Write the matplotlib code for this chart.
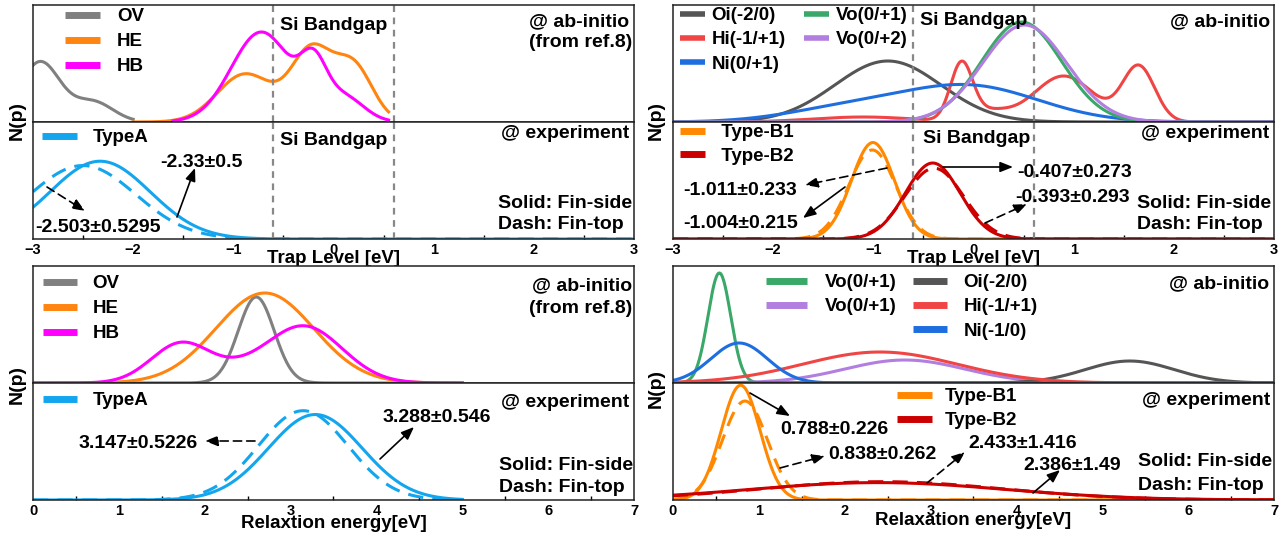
import numpy as np
import matplotlib
matplotlib.use("Agg")
import matplotlib.pyplot as plt
from matplotlib.lines import Line2D

plt.rcParams['font.family'] = ['Liberation Sans', 'DejaVu Sans']
plt.rcParams['font.weight'] = 'bold'
plt.rcParams['axes.labelweight'] = 'bold'

# ------------------------------------------------------------------ data
# Si band-gap edges (trap level, eV)
si_gap = [-0.6, 0.6]

# --- Trap level, ab-initio (ref.8), left panel: Gaussian components
ov_trap_mu, ov_trap_sd, ov_trap_amp, ov_trap_rng = [-2.93, -2.40], [0.20, 0.20], [0.60, 0.20], [-3.0, -2.0]
he_trap_mu, he_trap_sd, he_trap_amp, he_trap_rng = [-0.88, -0.22, 0.20], [0.28, 0.20, 0.19], [0.48, 0.70, 0.55], [-2.0, 0.55]
hb_trap_mu, hb_trap_sd, hb_trap_amp, hb_trap_rng = [-0.72, -0.20, 0.10], [0.30, 0.13, 0.20], [0.90, 0.45, 0.25], [-1.6, 0.55]

# --- Trap level, experiment, Type A (mean, sigma)
typeA_trap_side = [-2.33, 0.5]
typeA_trap_top = [-2.503, 0.5295]

# --- Trap level, ab-initio, right panel
oi_trap_mu, oi_trap_sd, oi_trap_amp = [-0.855], [0.53], [0.61]
hi_trap_mu, hi_trap_sd, hi_trap_amp = [-1.1, -0.12, 0.15, 0.90, 1.65], [0.50, 0.11, 0.20, 0.30, 0.16], [0.05, 0.56, 0.10, 0.46, 0.55]
ni_trap_mu, ni_trap_sd, ni_trap_amp = [-0.05, -1.30], [0.70, 0.60], [0.36, 0.12]
vo1_trap_mu, vo1_trap_sd, vo1_trap_amp = [0.48], [0.40], [1.00]
vo2_trap_mu, vo2_trap_sd, vo2_trap_amp = [0.51], [0.42], [0.97]

# --- Trap level, experiment, Type B1 / B2
typeB1_trap_side = [-1.004, 0.215]
typeB1_trap_top = [-1.011, 0.233]
typeB2_trap_side = [-0.407, 0.273]
typeB2_trap_top = [-0.393, 0.293]

# --- Relaxation energy, ab-initio (ref.8), left panel
ov_rel_mu, ov_rel_sd, ov_rel_amp = [2.60], [0.21], [0.86]
he_rel_mu, he_rel_sd, he_rel_amp = [2.70], [0.57], [0.90]
hb_rel_mu, hb_rel_sd, hb_rel_amp = [1.73, 2.40, 3.15], [0.35, 0.30, 0.45], [0.40, 0.06, 0.57]
rel_left_rng = [0.0, 5.0]

# --- Relaxation energy, experiment, Type A
typeA_rel_side = [3.288, 0.546]
typeA_rel_top = [3.147, 0.5226]

# --- Relaxation energy, ab-initio, right panel
vo1_rel_mu, vo1_rel_sd, vo1_rel_amp = [0.54], [0.133], [1.10]
vo2_rel_mu, vo2_rel_sd, vo2_rel_amp = [2.70], [0.70], [0.23]
oi_rel_mu, oi_rel_sd, oi_rel_amp = [5.32], [0.52], [0.22]
hi_rel_mu, hi_rel_sd, hi_rel_amp = [2.41], [0.90], [0.31]
ni_rel_mu, ni_rel_sd, ni_rel_amp = [0.77], [0.33], [0.40]

# --- Relaxation energy, experiment, Type B1 / B2
typeB1_rel_side = [0.788, 0.226]
typeB1_rel_top = [0.838, 0.262]
typeB2_rel_side = [2.386, 1.49]
typeB2_rel_top = [2.433, 1.416]

# tick labels
trap_ticks = [-3, -2, -1, 0, 1, 2, 3]
rel_ticks = [0, 1, 2, 3, 4, 5, 6, 7]

# ------------------------------------------------------------------ helpers
W, H = 1286, 538
fig = plt.figure(figsize=(W / 100, H / 100), dpi=100)


def FX(px):
    return px / W


def FY(py):
    return 1 - py / H


def gmix(x, mu, sd, amp):
    x = np.asarray(x)[:, None]
    mu, sd, amp = map(np.asarray, (mu, sd, amp))
    return (amp * np.exp(-(x - mu) ** 2 / (2 * sd ** 2))).sum(axis=1)


def gpdf(x, p):
    m, s = p
    return np.exp(-(x - m) ** 2 / (2 * s * s)) / (s * np.sqrt(2 * np.pi))


def make_axes(x0, y0):
    top = fig.add_axes([FX(x0), FY(y0 + 117), 601 / W, 117 / H])
    bot = fig.add_axes([FX(x0), FY(y0 + 234), 601 / W, 117 / H])
    for a in (top, bot):
        for s in a.spines.values():
            s.set_linewidth(1.1)
            s.set_color('#222222')
        a.set_yticks([])
    top.tick_params(axis='x', which='both', bottom=False, labelbottom=False)
    return top, bot


def style_bottom(ax, ticks):
    ax.set_xticks(ticks)
    ax.set_xticks([t + 0.5 for t in ticks[:-1]], minor=True)
    ax.tick_params(axis='x', which='major', length=0, pad=3, labelsize=10.5)
    ax.tick_params(axis='x', which='minor', direction='in', length=3, width=1)


def ftext(px, py, s, ha='left', size=14):
    fig.text(FX(px), FY(py), s, ha=ha, va='baseline', fontsize=size, fontweight='bold')


def arrow(ax, tail, head, dashed=False):
    ax.annotate('', xy=(head[0], H - head[1]), xytext=(tail[0], H - tail[1]),
                xycoords='figure pixels', textcoords='figure pixels',
                arrowprops=dict(arrowstyle='-|>,head_length=0.55,head_width=0.22',
                                color='black', lw=1.2,
                                linestyle=(0, (5, 3)) if dashed else '-',
                                shrinkA=0, shrinkB=0, mutation_scale=14))


def legend(ax, items, x_px, y_px, hl, htp, ls=0.39, lw=5, ncol=1, cs=1.0, size=13.5):
    handles = [Line2D([], [], color=c, lw=lw, solid_capstyle='butt') for c, _ in items]
    labels = [l for _, l in items]
    lg = ax.legend(handles, labels, loc='upper left', bbox_to_anchor=(FX(x_px), FY(y_px)),
                   bbox_transform=fig.transFigure, frameon=False, borderpad=0,
                   borderaxespad=0, fontsize=size, handlelength=hl, handletextpad=htp,
                   labelspacing=ls, ncol=ncol, columnspacing=cs)
    return lg


LW = 2.2
DASH = (0, (5, 3))

C_OV, C_HE, C_HB, C_A = '#808080', '#ff8410', '#ff00ff', '#13a6ef'
C_OI, C_HI, C_NI, C_VO1, C_VO2 = '#555555', '#f04545', '#1f6ee0', '#3aa868', '#b27ee0'
C_B1, C_B2 = '#ff8800', '#cc0000'

# ================================================================== TOP-LEFT
axT, axB = make_axes(33, 5)
x = np.linspace(*ov_trap_rng, 200)
axT.plot(x, gmix(x, ov_trap_mu, ov_trap_sd, ov_trap_amp), color=C_OV, lw=LW)
x = np.linspace(*he_trap_rng, 400)
axT.plot(x, gmix(x, he_trap_mu, he_trap_sd, he_trap_amp), color=C_HE, lw=LW)
x = np.linspace(*hb_trap_rng, 400)
axT.plot(x, gmix(x, hb_trap_mu, hb_trap_sd, hb_trap_amp), color=C_HB, lw=LW)
x = np.linspace(trap_ticks[0], trap_ticks[-1], 600)
axB.plot(x, gpdf(x, typeA_trap_side), color=C_A, lw=LW)
axB.plot(x, gpdf(x, typeA_trap_top), color=C_A, lw=LW, ls=DASH)
for a, top in ((axT, 1.17), (axB, 1.2)):
    a.set_xlim(trap_ticks[0], trap_ticks[-1])
    a.set_ylim(0, top)
    for g in si_gap:
        a.axvline(g, color='#888888', lw=1.6, ls=(0, (3, 2.5)))
style_bottom(axB, trap_ticks)
axB.set_xlabel('Trap Level [eV]', fontsize=13.5, fontweight='bold', va='baseline')
axB.xaxis.set_label_coords(0.5, -24 / 117)
legend(axT, [(C_OV, 'OV'), (C_HE, 'HE'), (C_HB, 'HB')], 65, 8, hl=1.87, htp=0.9, ls=0.42)
legend(axB, [(C_A, 'TypeA')], 42, 129, hl=1.87, htp=0.85)
ftext(280, 30, 'Si Bandgap')
ftext(280, 145, 'Si Bandgap')
ftext(629, 26, '@ ab-initio', ha='right')
ftext(632, 47, '(from ref.8)', ha='right')
ftext(629, 138, '@ experiment', ha='right')
ftext(498, 208, 'Solid: Fin-side')
ftext(498, 229, 'Dash: Fin-top')
ftext(160, 167, '-2.33±0.5')
ftext(35, 232, '-2.503±0.5295')
arrow(axB, (177, 217), (195, 168))
arrow(axB, (47, 187), (85, 211), dashed=True)
fig.text(FX(17), FY(121), 'N(p)', rotation=90, ha='center', va='center', fontsize=14, fontweight='bold')

# ================================================================== TOP-RIGHT
axT, axB = make_axes(673, 5)
x = np.linspace(trap_ticks[0], trap_ticks[-1], 800)
axT.plot(x, gmix(x, oi_trap_mu, oi_trap_sd, oi_trap_amp), color=C_OI, lw=LW)
axT.plot(x, gmix(x, hi_trap_mu, hi_trap_sd, hi_trap_amp), color=C_HI, lw=LW)
axT.plot(x, gmix(x, ni_trap_mu, ni_trap_sd, ni_trap_amp), color=C_NI, lw=LW)
axT.plot(x, gmix(x, vo1_trap_mu, vo1_trap_sd, vo1_trap_amp), color=C_VO1, lw=LW)
axT.plot(x, gmix(x, vo2_trap_mu, vo2_trap_sd, vo2_trap_amp), color=C_VO2, lw=LW)
axB.plot(x, gpdf(x, typeB1_trap_side), color=C_B1, lw=LW)
axB.plot(x, gpdf(x, typeB1_trap_top), color=C_B1, lw=LW, ls=DASH)
axB.plot(x, gpdf(x, typeB2_trap_side), color=C_B2, lw=LW)
axB.plot(x, gpdf(x, typeB2_trap_top), color=C_B2, lw=LW, ls=DASH)
for a, top in ((axT, 1.17), (axB, 2.25)):
    a.set_xlim(trap_ticks[0], trap_ticks[-1])
    a.set_ylim(0, top)
    for g in si_gap:
        a.axvline(g, color='#888888', lw=1.6, ls=(0, (3, 2.5)))
style_bottom(axB, trap_ticks)
axB.set_xlabel('Trap Level [eV]', fontsize=13.5, fontweight='bold', va='baseline')
axB.xaxis.set_label_coords(0.5, -24 / 117)
legend(axT, [(C_OI, 'Oi(-2/0)'), (C_HI, 'Hi(-1/+1)'), (C_NI, 'Ni(0/+1)'),
             (C_VO1, 'Vo(0/+1)'), (C_VO2, 'Vo(0/+2)')], 680, 7, hl=1.33, htp=0.35,
       ls=0.38, lw=4, ncol=2, cs=1.0)
legend(axB, [(C_B1, ' Type-B1'), (C_B2, ' Type-B2')], 680, 124, hl=1.33, htp=0.6, ls=0.36)
ftext(920, 25, 'Si Bandgap')
ftext(923, 143, 'Si Bandgap')
ftext(1270, 26, '@ ab-initio', ha='right')
ftext(1269, 138, '@ experiment', ha='right')
ftext(1137, 208, 'Solid: Fin-side')
ftext(1137, 229, 'Dash: Fin-top')
ftext(683, 195, '-1.011±0.233')
ftext(683, 228, '-1.004±0.215')
ftext(1017, 177, '-0.407±0.273')
ftext(1015, 202, '-0.393±0.293')
arrow(axB, (887, 168), (805, 185), dashed=True)
arrow(axB, (845, 187), (803, 218))
arrow(axB, (943, 167), (1013, 167))
arrow(axB, (985, 223), (1027, 204), dashed=True)
fig.text(FX(656), FY(121), 'N(p)', rotation=90, ha='center', va='center', fontsize=14, fontweight='bold')

# ================================================================== BOTTOM-LEFT
axT, axB = make_axes(33, 266)
x = np.linspace(*rel_left_rng, 500)
axT.plot(x, gmix(x, ov_rel_mu, ov_rel_sd, ov_rel_amp), color=C_OV, lw=LW)
axT.plot(x, gmix(x, he_rel_mu, he_rel_sd, he_rel_amp), color=C_HE, lw=LW)
axT.plot(x, gmix(x, hb_rel_mu, hb_rel_sd, hb_rel_amp), color=C_HB, lw=LW)
axB.plot(x, gpdf(x, typeA_rel_side), color=C_A, lw=LW)
axB.plot(x, gpdf(x, typeA_rel_top), color=C_A, lw=LW, ls=DASH)
for a, top in ((axT, 1.17), (axB, 1.0)):
    a.set_xlim(rel_ticks[0], rel_ticks[-1])
    a.set_ylim(0, top)
style_bottom(axB, rel_ticks)
axB.set_xlabel('Relaxtion energy[eV]', fontsize=13.5, fontweight='bold', va='baseline')
axB.xaxis.set_label_coords(0.5, -28 / 117)
legend(axT, [(C_OV, 'OV'), (C_HE, 'HE'), (C_HB, 'HB')], 43, 275, hl=1.8, htp=0.85, ls=0.42)
legend(axB, [(C_A, 'TypeA')], 43, 392, hl=1.8, htp=0.85)
ftext(632, 290, '@ ab-initio', ha='right')
ftext(632, 313, '(from ref.8)', ha='right')
ftext(629, 407, '@ experiment', ha='right')
ftext(499, 470, 'Solid: Fin-side')
ftext(499, 492, 'Dash: Fin-top')
ftext(79, 448, '3.147±0.5226')
ftext(383, 422, '3.288±0.546')
arrow(axB, (255, 441), (205, 441), dashed=True)
arrow(axB, (380, 459), (414, 427))
fig.text(FX(17), FY(385), 'N(p)', rotation=90, ha='center', va='center', fontsize=14, fontweight='bold')

# ================================================================== BOTTOM-RIGHT
axT, axB = make_axes(673, 266)
x = np.linspace(rel_ticks[0], rel_ticks[-1], 900)
axT.plot(x, gmix(x, vo1_rel_mu, vo1_rel_sd, vo1_rel_amp), color=C_VO1, lw=LW)
axT.plot(x, gmix(x, vo2_rel_mu, vo2_rel_sd, vo2_rel_amp), color=C_VO2, lw=LW)
axT.plot(x, gmix(x, oi_rel_mu, oi_rel_sd, oi_rel_amp), color=C_OI, lw=LW)
axT.plot(x, gmix(x, hi_rel_mu, hi_rel_sd, hi_rel_amp), color=C_HI, lw=LW)
axT.plot(x, gmix(x, ni_rel_mu, ni_rel_sd, ni_rel_amp), color=C_NI, lw=LW)
axB.plot(x, gpdf(x, typeB1_rel_side), color=C_B1, lw=LW)
axB.plot(x, gpdf(x, typeB1_rel_top), color=C_B1, lw=LW, ls=DASH)
axB.plot(x, gpdf(x, typeB2_rel_side), color=C_B2, lw=LW)
axB.plot(x, gpdf(x, typeB2_rel_top), color=C_B2, lw=LW, ls=DASH)
for a, top in ((axT, 1.17), (axB, 1.8)):
    a.set_xlim(rel_ticks[0], rel_ticks[-1])
    a.set_ylim(0, top)
style_bottom(axB, rel_ticks)
axB.set_xlabel('Relaxation energy[eV]', fontsize=13.5, fontweight='bold', va='baseline')
axB.xaxis.set_label_coords(0.5, -25 / 117)
lg1 = legend(axT, [(C_VO1, 'Vo(0/+1)'), (C_VO2, 'Vo(0/+1)')], 766, 274, hl=2.2, htp=0.96, ls=0.38)
axT.add_artist(lg1)
legend(axT, [(C_OI, 'Oi(-2/0)'), (C_HI, 'Hi(-1/+1)'), (C_NI, 'Ni(-1/0)')], 913, 274,
       hl=1.8, htp=0.9, ls=0.38)
legend(axB, [(C_B1, 'Type-B1'), (C_B2, 'Type-B2')], 897, 388, hl=1.87, htp=0.7, ls=0.38)
ftext(1269, 288, '@ ab-initio', ha='right')
ftext(1270, 405, '@ experiment', ha='right')
ftext(1138, 466, 'Solid: Fin-side')
ftext(1138, 490, 'Dash: Fin-top')
ftext(780, 434, '0.788±0.226')
ftext(828, 459, '0.838±0.262')
ftext(968, 448, '2.433±1.416')
ftext(1023, 470, '2.386±1.49')
arrow(axB, (750, 393), (790, 416))
arrow(axB, (780, 468), (825, 456), dashed=True)
arrow(axB, (927, 483), (965, 452), dashed=True)
arrow(axB, (1033, 493), (1060, 470))
fig.text(FX(656), FY(388), 'N(p)', rotation=90, ha='center', va='center', fontsize=14, fontweight='bold')

fig.savefig('out.png', dpi=100)
